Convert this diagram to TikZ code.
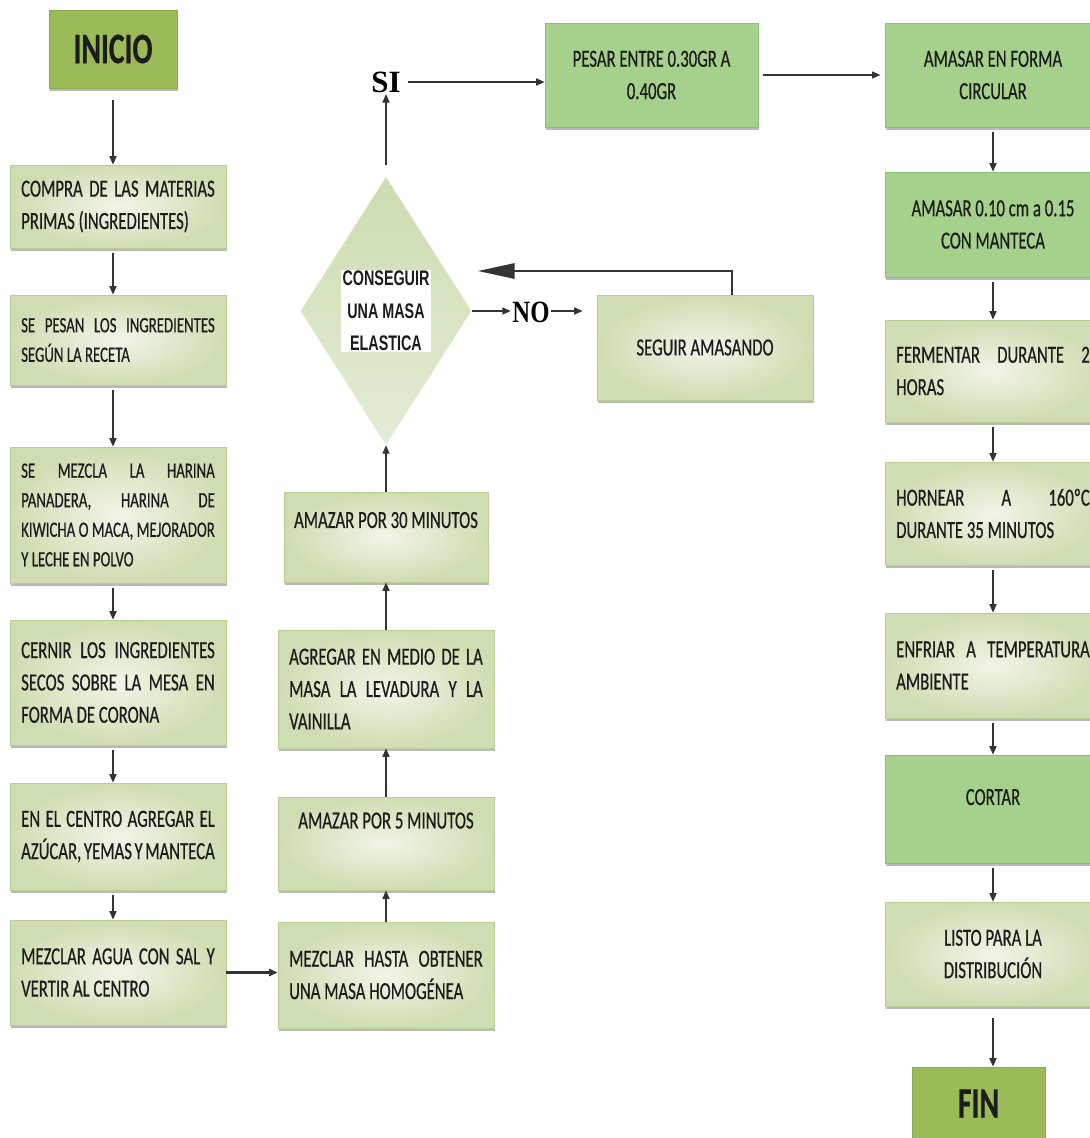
\documentclass[tikz,border=0pt]{standalone}
\usepackage{fontspec}
\setmainfont{Carlito}[FakeStretch=0.68, FakeBold=0.5]
\newfontfamily\yesnofont{Liberation Serif}
\newfontfamily\askfont{Liberation Sans}[FakeStretch=0.68]
\usepackage{xcolor}
\usepackage{tikz}
\usetikzlibrary{arrows.meta,positioning,calc,shapes.geometric,shadows}
\definecolor{ink}{HTML}{1C1C1C}
\definecolor{olivefill}{HTML}{9BBB59}
\definecolor{oliveedge}{HTML}{8AAA4C}
\definecolor{leaffill}{HTML}{A6D18D}
\definecolor{leafedge}{HTML}{8CBF72}
\definecolor{paleout}{HTML}{CFDDB2}
\definecolor{palein}{HTML}{F1F5E8}
\definecolor{paleedge}{HTML}{BACE94}
\definecolor{rhombtop}{HTML}{CCDCB0}
\definecolor{rhombbot}{HTML}{E3ECD5}
\newcommand{\boxfont}{\fontsize{17.5}{23}\selectfont\tolerance=9999\hyphenpenalty=10000}
\newcommand{\smallboxfont}{\fontsize{15.5}{21}\selectfont\tolerance=9999\hyphenpenalty=10000}
\tikzset{
  Shade/.style={drop shadow={shadow xshift=0.6pt, shadow yshift=-2.2pt,
                fill=black!50, opacity=0.55}},
  Pale/.style={Shade, draw=paleedge, line width=0.5pt, inner color=palein,
               outer color=paleout, font=\boxfont, text=ink, minimum width=5.4cm},
  Pbox/.style={Pale, align=justify, text width=4.84cm, inner xsep=0.28cm},
  Cbox/.style={Pale, align=center},
  Gbox/.style={Shade, draw=leafedge, line width=0.5pt, fill=leaffill,
               align=center, font=\boxfont, text=ink, minimum width=5.4cm},
  Tbox/.style={Shade, draw=oliveedge, line width=0.5pt, fill=olivefill,
               font=\fontsize{31}{33}\selectfont\bfseries, text=ink},
  Rhomb/.style={diamond, aspect=0.64, inner sep=0pt, minimum width=4.275cm,
                minimum height=6.7cm, top color=rhombtop, bottom color=rhombbot},
  Ask/.style={fill=white, align=center, inner sep=1pt, text=ink,
              font=\askfont\fontsize{15}{23}\selectfont\bfseries},
  Yn/.style={font=\yesnofont\fontsize{22}{24}\selectfont\bfseries, text=black,
             inner sep=1pt},
  Lift/.style={text depth=#1},
  Flow/.style={-{Triangle[length=6pt,width=5pt]}, line width=1pt, draw=black!80},
  Back/.style={-{Triangle[length=26pt,width=11pt]}, line width=1pt, draw=black!80}
}

\begin{document}
\begin{tikzpicture}
  \clip (0,0) rectangle (27.25,-28.45);

  % first column
  \node[Tbox, minimum width=3.2cm, minimum height=1.95cm] (inicio) at (2.825,-1.225) {INICIO};
  \node[Pbox, minimum height=2.075cm] (compra) at (2.95,-5.1625)
    {COMPRA DE LAS MATERIAS\linebreak PRIMAS (INGREDIENTES)};
  \node[Pbox, font=\smallboxfont, minimum height=2.25cm] (pesan) at (2.95,-8.5)
    {SE PESAN LOS INGREDIENTES\linebreak SEGÚN LA RECETA};
  \node[Pbox, font=\smallboxfont, minimum height=3.4cm] (mezcla) at (2.95,-12.875)
    {SE MEZCLA LA HARINA\linebreak PANADERA, HARINA DE\linebreak KIWICHA O MACA, MEJORADOR\linebreak Y LECHE EN POLVO};
  \node[Pbox, minimum height=3.125cm] (cernir) at (2.95,-17.0625)
    {CERNIR LOS INGREDIENTES\linebreak SECOS SOBRE LA MESA EN\linebreak FORMA DE CORONA};
  \node[Pbox, minimum height=2.675cm] (centro) at (2.95,-20.9125)
    {EN EL CENTRO AGREGAR EL\linebreak AZÚCAR, YEMAS Y MANTECA};
  \node[Pbox, minimum height=2.625cm] (agua) at (2.95,-24.3125)
    {MEZCLAR AGUA CON SAL Y\linebreak VERTIR AL CENTRO};

  % second column
  \node[Pbox, minimum height=2.65cm] (homog) at (9.65,-24.375)
    {MEZCLAR HASTA OBTENER\linebreak UNA MASA HOMOGÉNEA};
  \node[Cbox, Lift=1.15cm, minimum height=2.325cm] (cinco) at (9.65,-21.0875)
    {AMAZAR POR 5 MINUTOS};
  \node[Pbox, minimum height=2.95cm] (agregar) at (9.65,-17.225)
    {AGREGAR EN MEDIO DE LA\linebreak MASA LA LEVADURA Y LA\linebreak VAINILLA};
  \node[Cbox, Lift=0.85cm, minimum width=5.1cm, minimum height=2.25cm] (treinta)
    at (9.65,-13.425) {AMAZAR POR 30 MINUTOS};
  \node[Rhomb, label={[Ask]center:CONSEGUIR\\UNA MASA\\ELASTICA}] (dia) at (9.65,-7.775) {};
  \node[Yn] (si) at (9.65,-2.05) {SI};
  \node[Yn, font=\yesnofont\fontsize{22}{24}\selectfont\bfseries\addfontfeature{FakeStretch=0.8}]
    (no) at (13.275,-7.8) {NO};
  \node[Gbox, minimum width=5.325cm, minimum height=2.6cm] (pesar) at (16.2875,-1.875)
    {PESAR ENTRE 0.30GR A\\0.40GR};
  \node[Cbox, minimum height=2.625cm] (seguir) at (17.625,-8.6875) {SEGUIR AMASANDO};
  \coordinate (back) at (11.95,-6.775);

  % third column
  \node[Gbox, minimum height=2.6cm] (circular) at (24.825,-1.875)
    {AMASAR EN FORMA\\CIRCULAR};
  \node[Gbox, minimum height=2.625cm] (manteca) at (24.825,-5.6125)
    {AMASAR 0.10 cm a 0.15\\CON MANTECA};
  \node[Pbox, minimum height=2.55cm] (fermentar) at (24.825,-9.275)
    {FERMENTAR DURANTE 2\linebreak HORAS};
  \node[Pbox, minimum height=2.575cm] (hornear) at (24.825,-12.8375)
    {HORNEAR A 160ºC\linebreak DURANTE 35 MINUTOS};
  \node[Pbox, minimum height=2.625cm] (enfriar) at (24.825,-16.6375)
    {ENFRIAR A TEMPERATURA\linebreak AMBIENTE};
  \node[Gbox, Lift=0.6cm, minimum height=2.7cm] (cortar) at (24.825,-20.225) {CORTAR};
  \node[Cbox, minimum height=2.6cm] (listo) at (24.825,-23.85)
    {LISTO PARA LA\\DISTRIBUCIÓN};
  \node[Tbox, minimum width=3.325cm, minimum height=1.825cm] (fin) at (24.4625,-27.5875) {FIN};

  % connectors
  \draw[Flow, shorten <=0.3cm] (inicio.south) -- (inicio.south |- compra.north);
  \foreach \a/\b in {compra/pesan,pesan/mezcla,mezcla/cernir,cernir/centro,centro/agua}
    \draw[Flow, shorten <=3pt] ([xshift=-1.25mm]\a.south) -- ([xshift=-1.25mm]\b.north);
  \draw[Flow, line width=2pt] (agua.east) -- (agua.east -| homog.west);
  \foreach \a/\b in {homog/cinco,cinco/agregar,agregar/treinta,treinta/dia}
    \draw[Flow] (\a.north) -- (\b.south);
  \draw[Flow, shorten <=0.3cm] (dia.north) -- (si.south);
  \draw[Flow, shorten <=4pt] (si.east) -- (si.east -| pesar.west);
  \draw[Flow, shorten <=3pt, shorten >=3pt] (pesar.east) -- (circular.west);
  \draw[Flow] (dia.east) -- (dia.east -| no.west);
  \draw[Flow, shorten >=0.35cm] (no.east |- dia.east) -- (dia.east -| seguir.west);
  \draw[Back] ([xshift=0.675cm]seguir.north) |- (back);
  \foreach \a/\b in {circular/manteca,manteca/fermentar,fermentar/hornear,hornear/enfriar,enfriar/cortar,cortar/listo}
    \draw[Flow, shorten <=3pt] (\a.south) -- (\b.north);
  \draw[Flow, shorten <=0.3cm] (listo.south) -- (listo.south |- fin.north);
\end{tikzpicture}
\end{document}
